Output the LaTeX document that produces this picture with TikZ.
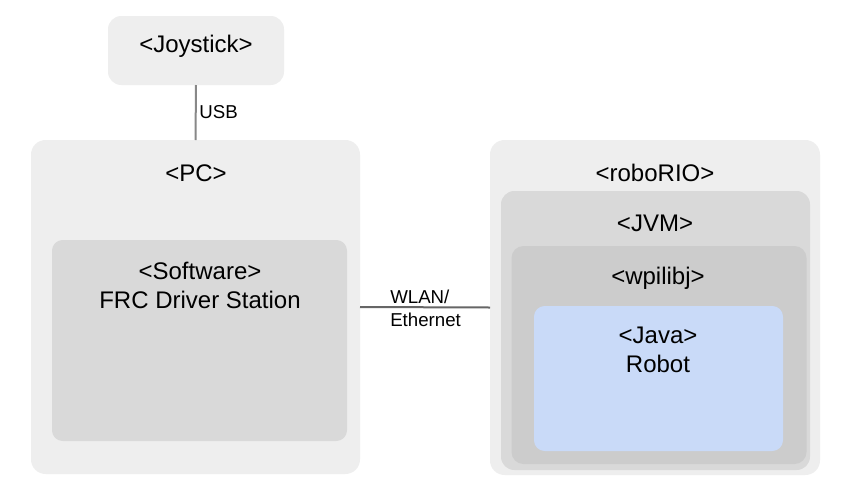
\documentclass[tikz,border=0pt]{standalone}
\usepackage{fontspec}
\setmainfont{Liberation Sans}
\begin{document}
\begin{tikzpicture}[x=0.75pt,y=-0.75pt,
  boxbase/.style={draw=none,inner sep=0pt,outer sep=0pt},
  lightbox/.style={boxbase,fill=boxlight,rounded corners=#1},
  midbox/.style={boxbase,fill=boxmid,rounded corners=#1},
  darkbox/.style={boxbase,fill=boxdark,rounded corners=#1},
  bluebox/.style={boxbase,fill=boxblue,rounded corners=#1},
  mainlabel/.style={font=\fontsize{18pt}{22pt}\selectfont,align=center,inner sep=0pt,text=black},
  linklabel/.style={font=\fontsize{14pt}{17.3pt}\selectfont,align=left,inner sep=0pt,text=black},
  usbline/.style={draw=usbgray,line width=1.5pt},
  netline/.style={draw=netgray,line width=1.5pt}]
\definecolor{boxlight}{HTML}{EEEEEE}
\definecolor{boxmid}{HTML}{D9D9D9}
\definecolor{boxdark}{HTML}{CCCCCC}
\definecolor{boxblue}{HTML}{C9DAF8}
\definecolor{usbgray}{HTML}{888888}
\definecolor{netgray}{HTML}{666666}
\useasboundingbox (0,0) rectangle (847,497);
\fill[white] (0,0) rectangle (847,497);
% boxes
\node[lightbox=10pt,minimum width=132pt,minimum height=51.75pt] (joy) at (196,50.5) {};
\node[lightbox=11pt,minimum width=246.75pt,minimum height=250.5pt] (pc) at (195.5,307) {};
\node[midbox=8pt,minimum width=221.25pt,minimum height=150.75pt] (sw) at (199.5,340.5) {};
\node[lightbox=11pt,minimum width=247.5pt,minimum height=251.25pt] (robo) at (655,307.5) {};
\node[midbox=10pt,minimum width=231.75pt,minimum height=209.25pt] (jvm) at (655.5,330.5) {};
\node[darkbox=9pt,minimum width=221.25pt,minimum height=163.5pt] (wpi) at (659,355) {};
\node[bluebox=8pt,minimum width=186.75pt,minimum height=108.75pt] (java) at (658.5,378.5) {};
% labels
\node[mainlabel] (joyt) at (196,46) {<Joystick>};
\node[mainlabel] (pct) at (196,173) {<PC>};
\node[mainlabel] (swt) at (200,285.5) {<Software>\\FRC Driver Station};
\node[mainlabel] (robot) at (655,173) {<roboRIO>};
\node[mainlabel] (jvmt) at (655,223) {<JVM>};
\node[mainlabel] (wpit) at (658,278) {<wpilibj>};
\node[mainlabel] (javat) at (658,350) {<Java>\\Robot};
% connectors
\draw[usbline] (joy.south) -- node[linklabel,right=2pt] (usbt) {USB} (pc.north);
\draw[netline] (pc.east) -- (robo.west);
\node[linklabel,anchor=west] (wlant) at (390,308) {WLAN/\\Ethernet};
\end{tikzpicture}
\end{document}
